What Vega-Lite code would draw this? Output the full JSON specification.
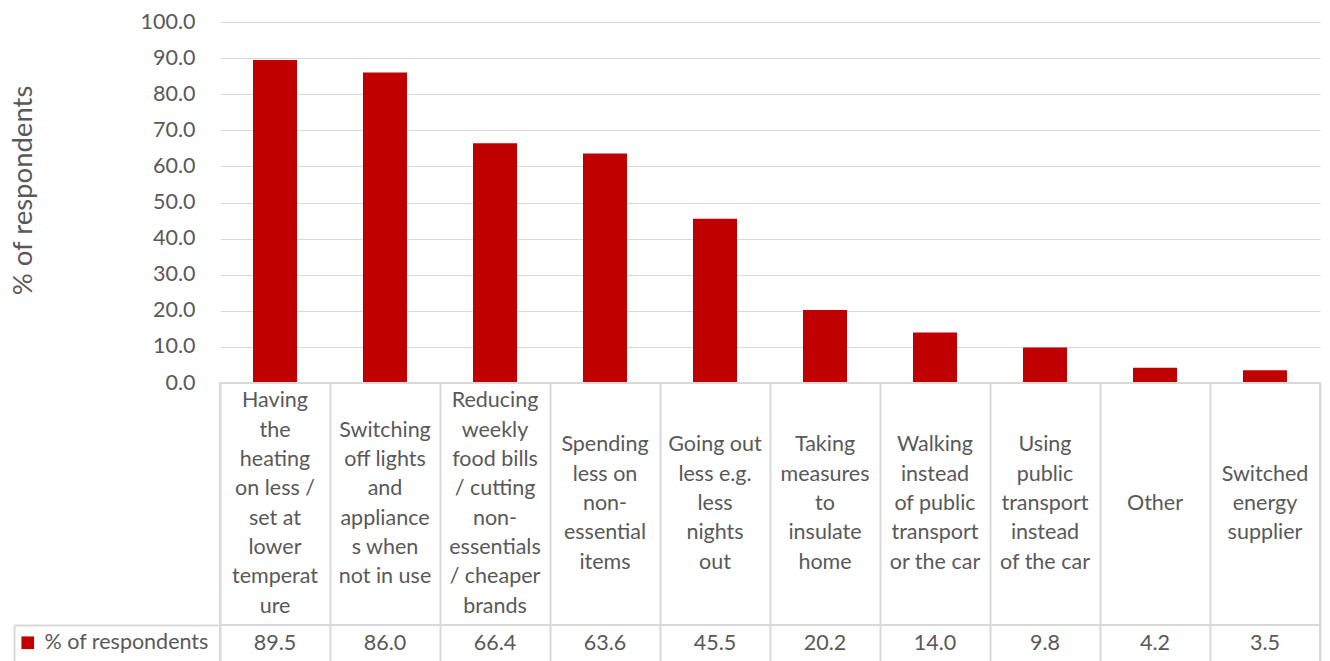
{
  "$schema": "https://vega.github.io/schema/vega-lite/v6.json",
  "background": "white",
  "padding": {"left": 9, "top": 11, "right": 10, "bottom": 0},
  "spacing": 0,
  "bounds": "flush",
  "config": {"font": "Lato", "axis": {"labelFont": "Lato", "titleFont": "Lato"}, "legend": {"labelFont": "Lato"}},
  "data": {
    "values": [
      {"category": "Having the heating on less / set at lower temperature", "label": "Having\nthe\nheating\non less /\nset at\nlower\ntemperat\nure", "value": 89.5, "series": "% of respondents"},
      {"category": "Switching off lights and appliances when not in use", "label": "Switching\noff lights\nand\nappliance\ns when\nnot in use", "value": 86.0, "series": "% of respondents"},
      {"category": "Reducing weekly food bills / cutting non-essentials / cheaper brands", "label": "Reducing\nweekly\nfood bills\n/ cutting\nnon-\nessentials\n/ cheaper\nbrands", "value": 66.4, "series": "% of respondents"},
      {"category": "Spending less on non-essential items", "label": "Spending\nless on\nnon-\nessential\nitems", "value": 63.6, "series": "% of respondents"},
      {"category": "Going out less e.g. less nights out", "label": "Going out\nless e.g.\nless\nnights\nout", "value": 45.5, "series": "% of respondents"},
      {"category": "Taking measures to insulate home", "label": "Taking\nmeasures\nto\ninsulate\nhome", "value": 20.2, "series": "% of respondents"},
      {"category": "Walking instead of public transport or the car", "label": "Walking\ninstead\nof public\ntransport\nor the car", "value": 14.0, "series": "% of respondents"},
      {"category": "Using public transport instead of the car", "label": "Using\npublic\ntransport\ninstead\nof the car", "value": 9.8, "series": "% of respondents"},
      {"category": "Other", "label": "Other", "value": 4.2, "series": "% of respondents"},
      {"category": "Switched energy supplier", "label": "Switched\nenergy\nsupplier", "value": 3.5, "series": "% of respondents"}
    ]
  },
  "resolve": {
    "scale": {"x": "independent", "y": "independent", "color": "independent"},
    "axis": {"x": "independent", "y": "independent"},
    "legend": {"color": "independent"}
  },
  "vconcat": [
    {
      "width": 1100,
      "height": 361,
      "view": {"stroke": null},
      "mark": {"type": "bar", "color": "#C00000", "width": {"band": 0.4}},
      "encoding": {
        "x": {"field": "category", "type": "nominal", "sort": null, "scale": {"paddingInner": 0, "paddingOuter": 0}, "axis": null},
        "y": {
          "field": "value", "type": "quantitative",
          "scale": {"domain": [0, 100]},
          "axis": {
            "title": "% of respondents",
            "values": [0, 10, 20, 30, 40, 50, 60, 70, 80, 90, 100],
            "format": ".1f",
            "grid": true, "gridColor": "#D9D9D9", "gridWidth": 1,
            "domain": false, "ticks": false,
            "labelPadding": 25, "labelFontSize": 21.5, "labelColor": "#595959",
            "titleFontSize": 27.5, "titleColor": "#595959", "titleFontWeight": "normal", "titlePadding": 103, "titleY": 168
          }
        }
      }
    },
    {
      "width": 1100,
      "height": 242,
      "view": {"stroke": "#D9D9D9", "strokeWidth": 2},
      "mark": {"type": "text", "lineBreak": "\n", "fontSize": 21.5, "color": "#595959", "lineHeight": 29.3, "baseline": "middle", "dy": {"expr": "-(length(split(datum.label, '\\n')) - 1) * 29.3 / 2"}},
      "encoding": {
        "x": {
          "field": "category", "type": "nominal", "sort": null,
          "scale": {"paddingInner": 0, "paddingOuter": 0},
          "axis": {"grid": true, "tickBand": "extent", "gridColor": "#D9D9D9", "gridWidth": 2, "labels": false, "ticks": false, "domain": false, "title": null}
        },
        "text": {"field": "label", "type": "nominal"}
      }
    },
    {
      "width": 1100,
      "height": 37,
      "view": {"stroke": "#D9D9D9", "strokeWidth": 2},
      "encoding": {
        "x": {
          "field": "category", "type": "nominal", "sort": null,
          "scale": {"paddingInner": 0, "paddingOuter": 0},
          "axis": {"grid": true, "tickBand": "extent", "gridColor": "#D9D9D9", "gridWidth": 2, "labels": false, "ticks": false, "domain": false, "title": null}
        },
        "y": {
          "field": "series", "type": "nominal",
          "scale": {"paddingInner": 0, "paddingOuter": 0},
          "axis": {"title": null, "labels": false, "domain": true, "domainColor": "#D9D9D9", "domainWidth": 2, "ticks": true, "tickBand": "extent", "tickSize": -206, "tickColor": "#D9D9D9", "tickWidth": 2, "offset": 206}
        }
      },
      "layer": [
        {
          "mark": {"type": "bar", "opacity": 0},
          "encoding": {
            "color": {
              "field": "series", "type": "nominal",
              "scale": {"range": ["#C00000"]},
              "legend": {
                "orient": "none", "legendX": -203, "legendY": 7, "title": null,
                "symbolType": "square", "symbolSize": 160, "symbolOpacity": 1,
                "labelFontSize": 21.5, "labelColor": "#595959", "labelOffset": 6, "labelLimit": 400,
                "encode": {"symbols": {"update": {"opacity": {"value": 1}}}}
              }
            }
          }
        },
        {
          "mark": {"type": "text", "fontSize": 21.5, "color": "#595959", "baseline": "middle"},
          "encoding": {"text": {"field": "value", "type": "quantitative", "format": ".1f"}}
        }
      ]
    }
  ]
}
